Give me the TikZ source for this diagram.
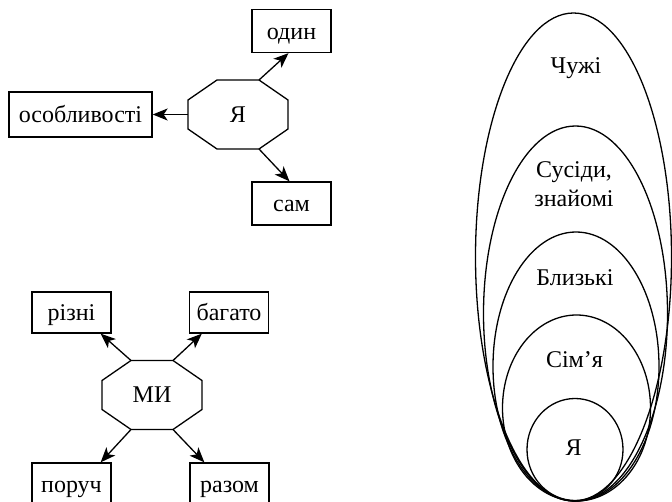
\documentclass[tikz,border=0pt]{standalone}
\usepackage{fontspec}
\setmainfont{Liberation Serif}
\usetikzlibrary{arrows.meta,calc}
\newcommand\myocta[1]{%
  \draw[octline] ([shift={(-21,-34.5)}]#1.center) coordinate (#1-nw)
    -- ([shift={(21,-34.5)}]#1.center) coordinate (#1-ne)
    -- ([shift={(50,-14.5)}]#1.center)
    -- ([shift={(50,14.5)}]#1.center)
    -- ([shift={(21,34.5)}]#1.center) coordinate (#1-se)
    -- ([shift={(-21,34.5)}]#1.center) coordinate (#1-sw)
    -- ([shift={(-50,14.5)}]#1.center)
    -- ([shift={(-50,-14.5)}]#1.center) -- cycle;}
\begin{document}
\begin{tikzpicture}[x=1pt,y=-1pt,
  every node/.style={font=\fontsize{24}{29}\selectfont},
  word/.style={draw, line width=1.3pt, minimum width=79pt, minimum height=43pt,
    inner xsep=4pt, inner ysep=0pt, text height=17pt, text depth=0pt},
  octlbl/.style={minimum width=100pt, minimum height=69pt, inner sep=0pt},
  octline/.style={line width=1.3pt, line join=miter},
  arr/.style={line width=1.3pt, -{Stealth[length=15pt,width=12pt,inset=4pt]}},
  oval/.style={line width=1.3pt},
  lbl/.style={inner sep=0pt}]
\useasboundingbox (0,0) rectangle (672,502);

% --- Я group
\node[octlbl] (ya) at (238,114.5) {Я};
\myocta{ya}
\node[word] (odin) at (291.5,31) {один};
\node[word, minimum width=143pt, minimum height=45pt] (osob) at (80.5,114.5) {особливості};
\node[word] (sam) at (291.5,203.5) {сам};
\draw[arr] (ya-ne) -- ([xshift=-3pt]odin.south);
\draw[arr] (ya-se) -- ([xshift=-2pt]sam.north);
\draw[arr] (ya.west) -- (osob.east);

% --- МИ group
\node[octlbl] (mi) at (152,395) {МИ};
\myocta{mi}
\node[word, minimum height=41pt] (rizni) at (71.5,312.5) {різні};
\node[word, minimum height=41pt] (bagato) at (229,312.5) {багато};
\node[word, minimum height=41pt] (poruch) at (71.5,483.5) {поруч};
\node[word, minimum height=41pt] (razom) at (229.5,483.5) {разом};
\draw[arr] (mi-nw) -- ([xshift=-11pt]rizni.south east);
\draw[arr] (mi-ne) -- ([xshift=13pt]bagato.south west);
\draw[arr] (mi-sw) -- ([xshift=-11pt]poruch.north east);
\draw[arr] (mi-se) -- ([xshift=15pt]razom.north west);

% --- nested ovals
\draw[oval] (573.5,257) ellipse [x radius=98pt, y radius=244pt];
\draw[oval] (575.5,313.5) ellipse [x radius=92pt, y radius=187.5pt];
\draw[oval] (576,366.5) ellipse [x radius=83pt, y radius=134.5pt];
\draw[oval] (576.5,408) ellipse [x radius=74pt, y radius=93pt];
\draw[oval] (575,449.5) ellipse [x radius=48pt, y radius=51pt];
\node[lbl, anchor=base] (l1) at (576,74) {Чужі};
\node[lbl, align=center] (l2) at (574,184) {Сусіди,\\знайомі};
\node[lbl, anchor=base] (l3) at (575,286) {Близькі};
\node[lbl, anchor=base] (l4) at (574.5,368) {Сім’я};
\node[lbl, anchor=base] (l5) at (573.5,455) {Я};
\end{tikzpicture}
\end{document}
